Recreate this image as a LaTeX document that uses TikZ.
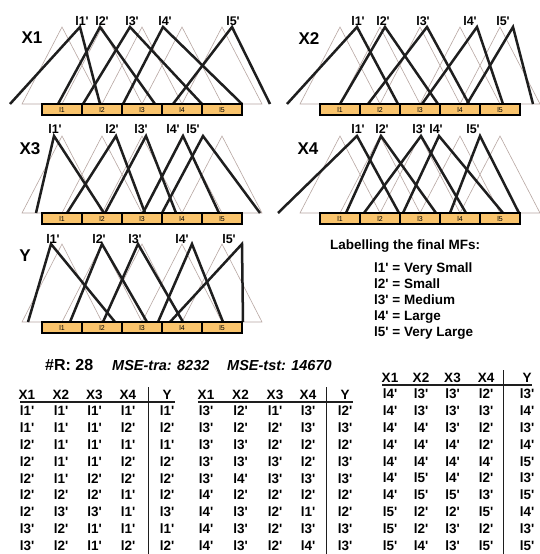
\documentclass[tikz,border=0pt]{standalone}
\usepackage{fontspec}
\newfontfamily\hf{Liberation Sans}
\definecolor{triGray}{HTML}{B8A7A2}
\definecolor{mfBlack}{HTML}{1E1E1E}
\definecolor{barFill}{HTML}{FAC46C}
\newcommand{\drawpanel}[4]{%
  \foreach \k in {0,...,4}{
    \draw[gridtri] ({#2+40*\k-40},#3) -- ({#2+40*\k},#4) -- ({#2+40*\k+40},#3) -- cycle;
  }
}
\newcommand{\drawbar}[3]{%
  \foreach \k in {1,...,5}{
    \node[barcell] (#1bar\k) at ({#2+40*(\k-1)},{#3+5.5}) {l\k};
  }
}
\begin{document}
\begin{tikzpicture}[x=1pt,y=-1pt,
  gridtri/.style={draw=triGray, line width=0.6pt},
  mf/.style={draw=mfBlack, line width=2.5pt},
  barcell/.style={draw=black, fill=barFill, line width=1.1pt, inner sep=0pt,
    minimum width=40pt, minimum height=11pt, font=\hf\fontsize{7}{7}\selectfont},
  mflab/.style={font=\hf\bfseries\fontsize{12.5}{12.5}\selectfont, anchor=base, yshift=-4.5pt, inner sep=0pt},
  panlab/.style={font=\hf\bfseries\fontsize{17}{17}\selectfont, anchor=base, yshift=-6.1pt, inner sep=0pt},
  info/.style={font=\hf\bfseries\fontsize{13.5}{13.5}\selectfont, anchor=base west, yshift=-4.8pt, inner sep=0pt},
  stat/.style={font=\hf\bfseries\fontsize{16}{16}\selectfont, anchor=base west, yshift=-5.7pt, inner sep=0pt},
  mse/.style={font=\hf\bfseries\itshape\fontsize{14.5}{14.5}\selectfont, anchor=base west, yshift=-5.2pt, inner sep=0pt},
  tab/.style={font=\hf\bfseries\fontsize{13.5}{13.5}\selectfont, anchor=base, yshift=-4.8pt, inner sep=0pt},
  hrule/.style={draw=mfBlack, line width=1.2pt},
  vrule/.style={draw=mfBlack, line width=0.7pt}
]
\useasboundingbox (0,0) rectangle (539,554);
\fill[white] (0,0) rectangle (539,554);

% ---------- gray uniform partitions
\drawpanel{X1}{62}{104}{27}
\drawpanel{X2}{340}{104}{27}
\drawpanel{X3}{62}{213}{136}
\drawpanel{X4}{340}{213}{136}
\drawpanel{Y}{62}{322}{244}

% ---------- final MFs (black)
\foreach \l/\a/\r in {10/80/100, 58/100/155, 83/130/202, 123/163/242, 173/232/270}
  \draw[mf] (\l,104) -- (\a,27) -- (\r,104);
\foreach \l/\a/\r in {287/357/398, 340/385/438, 368/427/469, 422/477/503, 467/513/533}
  \draw[mf] (\l,104) -- (\a,27) -- (\r,104);
\foreach \l/\a/\r in {36/54/104, 67/116/145, 105/146/176, 143/183/219, 162/203/260}
  \draw[mf] (\l,213) -- (\a,136) -- (\r,213);
\foreach \l/\a/\r in {278/357/399, 346/381/436, 364/421/466, 403/439/503, 450/480/519}
  \draw[mf] (\l,213) -- (\a,136) -- (\r,213);
\foreach \l/\a/\r in {28/51/115, 70/102/147, 103/138/183, 158/192/223, 170/242/243}
  \draw[mf] (\l,322) -- (\a,244) -- (\r,322);

% ---------- bars
\drawbar{X1}{62}{104}
\drawbar{X2}{340}{104}
\drawbar{X3}{62}{213}
\drawbar{X4}{340}{213}
\drawbar{Y}{62}{322}

% ---------- MF labels
\foreach \x [count=\i] in {82,102,132,165,233} \node[mflab] (X1m\i) at (\x,21) {l\i'};
\foreach \x [count=\i] in {358,383,423,470,503} \node[mflab] (X2m\i) at (\x,21) {l\i'};
\foreach \x [count=\i] in {55,112,141,173,193} \node[mflab] (X3m\i) at (\x,129) {l\i'};
\foreach \x [count=\i] in {358,382,419,436,473} \node[mflab] (X4m\i) at (\x,129) {l\i'};
\foreach \x [count=\i] in {53,99,135,182,229} \node[mflab] (Ym\i) at (\x,239) {l\i'};

% ---------- panel names
\node[panlab] (pX1) at (32,37) {X1};
\node[panlab] (pX2) at (309,38) {X2};
\node[panlab] (pX3) at (30,148) {X3};
\node[panlab] (pX4) at (308,148) {X4};
\node[panlab] (pY) at (25,255) {Y};

% ---------- labelling text
\node[info, anchor=base] (ltitle) at (405,245) {Labelling the final MFs:};
\node[info] (lab1) at (374,268) {l1' = Very Small};
\node[info] (lab2) at (374,284) {l2' = Small};
\node[info] (lab3) at (374,300) {l3' = Medium};
\node[info] (lab4) at (374,316) {l4' = Large};
\node[info] (lab5) at (374,332) {l5' = Very Large};

% ---------- statistics
\node[stat] (nr) at (45,365) {\#R: 28};
\node[mse] (mtra) at (112,365) {MSE-tra: 8232};
\node[mse] (mtst) at (227,365) {MSE-tst: 14670};

% ---------- table 1
\foreach \x/\t [count=\i] in {27/X1, 61/X2, 94.5/X3, 128/X4, 167/Y}
  \node[tab] (t1h\i) at (\x,395) {\t};
\coordinate (t1ul) at (20,402); \coordinate (t1ur) at (175,402);
\draw[hrule] (t1ul) -- (t1ur);
\coordinate (t1vt) at (148,387); \coordinate (t1vb) at (148,554);
\draw[vrule] (t1vt) -- (t1vb);
\foreach \a/\b/\c/\d/\e [count=\r] in {1/1/1/1/1, 1/1/1/2/2, 2/1/1/1/1, 2/1/1/2/2, 2/1/2/2/2, 2/2/2/1/2, 2/3/3/1/3, 3/2/1/1/1, 3/2/1/2/2}{
  \node[tab] (t1-\r-1) at (27,{411+16.8*(\r-1)}) {l\a'};
  \node[tab] (t1-\r-2) at (61,{411+16.8*(\r-1)}) {l\b'};
  \node[tab] (t1-\r-3) at (94.5,{411+16.8*(\r-1)}) {l\c'};
  \node[tab] (t1-\r-4) at (128,{411+16.8*(\r-1)}) {l\d'};
  \node[tab] (t1-\r-5) at (167,{411+16.8*(\r-1)}) {l\e'};
}

% ---------- table 2
\foreach \x/\t [count=\i] in {206/X1, 240.5/X2, 275/X3, 308/X4, 345/Y}
  \node[tab] (t2h\i) at (\x,395) {\t};
\coordinate (t2ul) at (198,402); \coordinate (t2ur) at (353,402);
\draw[hrule] (t2ul) -- (t2ur);
\coordinate (t2vt) at (326,387); \coordinate (t2vb) at (326,554);
\draw[vrule] (t2vt) -- (t2vb);
\foreach \a/\b/\c/\d/\e [count=\r] in {3/2/1/3/2, 3/2/2/3/3, 3/3/2/2/2, 3/3/3/2/3, 3/4/3/3/3, 4/2/2/2/2, 4/3/2/1/2, 4/3/2/3/3, 4/3/2/4/3}{
  \node[tab] (t2-\r-1) at (206,{411+16.8*(\r-1)}) {l\a'};
  \node[tab] (t2-\r-2) at (240.5,{411+16.8*(\r-1)}) {l\b'};
  \node[tab] (t2-\r-3) at (275,{411+16.8*(\r-1)}) {l\c'};
  \node[tab] (t2-\r-4) at (308,{411+16.8*(\r-1)}) {l\d'};
  \node[tab] (t2-\r-5) at (345,{411+16.8*(\r-1)}) {l\e'};
}

% ---------- table 3
\foreach \x/\t [count=\i] in {390/X1, 421/X2, 452.5/X3, 486/X4, 527/Y}
  \node[tab] (t3h\i) at (\x,378) {\t};
\coordinate (t3ul) at (382,385); \coordinate (t3ur) at (532,385);
\draw[hrule] (t3ul) -- (t3ur);
\coordinate (t3vt) at (503,370); \coordinate (t3vb) at (503,554);
\draw[vrule] (t3vt) -- (t3vb);
\foreach \a/\b/\c/\d/\e [count=\r] in {4/3/3/2/3, 4/3/3/3/4, 4/4/3/2/3, 4/4/4/2/4, 4/4/4/4/5, 4/5/4/2/3, 4/5/5/3/5, 5/2/2/5/4, 5/2/3/2/3, 5/4/3/5/5}{
  \node[tab] (t3-\r-1) at (390,{394+16.8*(\r-1)}) {l\a'};
  \node[tab] (t3-\r-2) at (421,{394+16.8*(\r-1)}) {l\b'};
  \node[tab] (t3-\r-3) at (452.5,{394+16.8*(\r-1)}) {l\c'};
  \node[tab] (t3-\r-4) at (486,{394+16.8*(\r-1)}) {l\d'};
  \node[tab] (t3-\r-5) at (527,{394+16.8*(\r-1)}) {l\e'};
}
\end{tikzpicture}
\end{document}
